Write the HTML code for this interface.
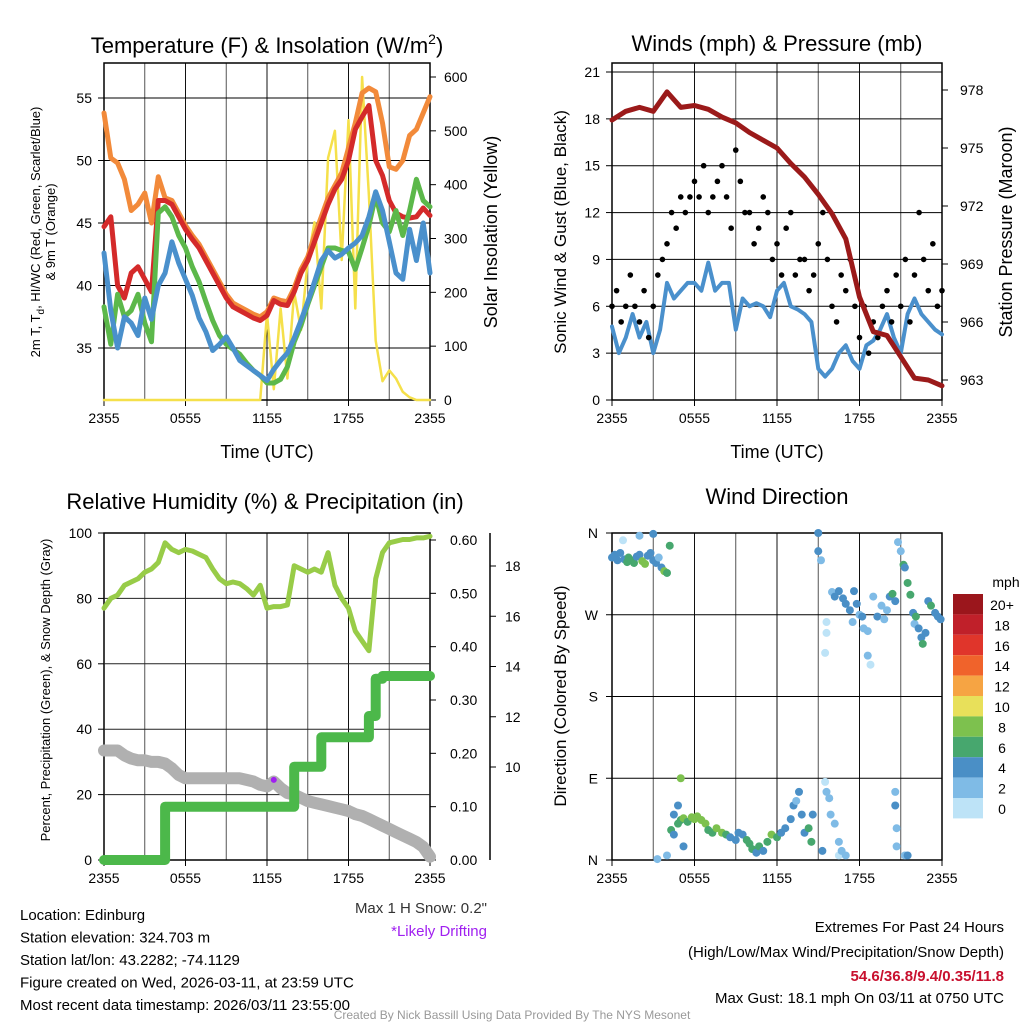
<!DOCTYPE html>
<html><head><meta charset="utf-8"><style>
body{margin:0;background:#fff;width:1024px;height:1024px;overflow:hidden}
svg{font-family:"Liberation Sans",sans-serif}
</style></head><body>
<svg id="chart" width="1024" height="1024" viewBox="0 0 1024 1024" xmlns="http://www.w3.org/2000/svg"></svg>
<script>
// ---- Data (time in hours from 2355 UTC; spread evenly over 24h) ----
const xTickLabels = ["2355","0555","1155","1755","2355"];
const tempTicks = [35,40,45,50,55];
const solarTicks = [0,100,200,300,400,500,600];
const windTicks = [0,3,6,9,12,15,18,21];
const presTicks = [963,966,969,972,975,978];
const pctTicks = [0,20,40,60,80,100];
const precipTicks = [0,0.1,0.2,0.3,0.4,0.5,0.6];
const snowTicks = [10,12,14,16,18];
const dirTickLabels = ["N","E","S","W","N"];
const cbarLabels = ["20+","18","16","14","12","10","8","6","4","2","0"];
const cbarColors = ["#9b161c","#c0202a","#e0352b","#f0632b","#f6a443","#e8e05a","#7dc14e","#47a76e","#4a8fc6","#7fbbe6","#bde3f7"];

const tempRed = [44.7,45.5,40,39,41,41.5,40.5,39.5,46.8,46.8,46.5,45.5,44.5,43.7,43,42,41,40,39,38.3,38,37.7,37.4,37.2,37.6,38.8,38.5,38.4,39.5,41,42,43.5,45,46.5,47.7,48.5,50,52.5,53.5,54.4,50,48.8,46.8,45.8,45.5,45.4,45.5,46.2,45.6];
const tempOrange = [53.8,50.2,49.8,48.5,46,46.5,47.4,45,48.7,47,46.8,45.8,44.8,44,43.3,42.3,41.3,40.3,39.3,38.6,38.3,38,37.7,37.5,37.9,39,38.8,38.7,39.8,41.3,42.3,44,45.5,47,48,49,51,53,55.4,55.8,55.5,53,49.5,49.3,50,52,52.5,53.8,55.1];
const tempGreen = [38.3,35.3,39.3,37.5,38,39.3,37,35.5,45.8,46.3,45.5,44,43,41.5,40.3,38.7,37.2,36,35.3,34.9,34.5,33.8,33.2,32.8,32.2,32.2,32.5,33.5,35.5,36.8,38.5,40,41.5,43,43,42.8,42.7,41.3,43,44.8,47.2,45,44.3,46,44,46,48.5,46.8,46.3];
const tempBlue = [42.6,38,35,37.5,37,36,39,37.3,40,41,43.5,41.8,40.5,39.2,37.4,36.3,34.8,35.3,35.9,35,34,33.6,33.2,32.8,32.4,33.3,34,34.6,35.8,37.2,38.7,40.3,42,42.8,42.2,42.5,43,43.4,44,45.5,47.5,46,43.5,41,40.5,44.5,42,45,41];
const solar = [0,0,0,0,0,0,0,0,0,0,0,0,0,0,0,0,0,0,0,0,0,0,0,0,160,20,170,40,200,130,260,330,170,450,500,260,520,170,600,380,110,35,55,40,15,5,0,0,0];

const windSpeed = [4.7,3,4,5.5,4,5,3,4.5,7.5,6.5,7,7.5,7.5,7,8.8,7,7.5,7.5,4.5,6.5,6,6.2,6,5.3,7,7.5,6,5.8,5.5,5,2,1.5,2,3,3.5,2.5,2,3.5,3.8,4.5,5.5,4,3,5.5,6.5,5.5,5,4.5,4.2];
const windGust = [6,7,5,6,8,6,5,7,4,6,8,9,10,12,11,13,12,13,14,13,15,12,13,14,15,13,11,16,14,12,12,10,11,13,12,9,10,8,11,12,8,9,9,7,8,10,12,9,6,5,8,7,9,6,4,6,3,5,4,6,7,5,8,6,9,5,8,12,9,7,10,6,7];
const pressure = [976.45,976.9,977.1,976.9,977.9,977.1,977.2,977.0,976.6,976.3,975.8,975.4,975.0,974.2,973.5,972.6,971.6,970.3,967.3,965.5,965.3,964.2,963.1,963.0,962.7];

const rh = [77,80,81,84,85,86,88,89,91,97,95,94,95,94.5,93.5,92.5,89,86,84.5,85,84.5,83,81,84,77,77.5,77.5,78,90,89,88,89,88,94,84,80,77,70,67,64,86,94,97,97.5,98,98,98.5,98.5,99];
const precip = [0,0,0,0,0,0,0,0,0,0.10,0.10,0.10,0.10,0.10,0.10,0.10,0.10,0.10,0.10,0.10,0.10,0.10,0.10,0.10,0.10,0.10,0.10,0.10,0.175,0.175,0.175,0.175,0.23,0.23,0.23,0.23,0.23,0.23,0.23,0.27,0.34,0.345,0.345,0.345,0.345,0.345,0.345,0.345,0.345];
const snowPct = [33.5,33.5,33.5,32,31,30.5,30.5,30,30,29.5,28,26,25,25,25,25,25,25,25,25,25,24.5,24,23,22.5,24,22,20.5,20,19,18,17.5,17,16.5,16,15.5,15,14,13.5,12.5,11.5,10.5,9.5,8.5,7.5,6.5,5.5,4,1];

const dirTime = [0.0,0.2,0.4,0.6,0.8,0.9,1.1,1.2,1.4,1.6,1.8,2.0,2.2,2.4,2.6,2.8,3.0,3.2,3.4,3.6,3.8,4.0,4.2,2.0,3.0,
 4.3,4.5,4.5,4.8,5.0,5.2,5.5,5.8,6.0,6.2,6.5,6.8,7.0,7.3,7.6,8.0,8.3,8.6,9.0,9.2,9.5,9.8,10.0,10.2,10.5,10.7,11.0,11.3,11.6,12.0,12.3,12.6,13.0,13.2,13.4,13.6,13.8,14.0,14.3,14.5,4.0,5.0,4.8,5.2,3.3,14.6,
 15.0,15.0,15.2,15.5,15.6,15.8,15.9,16.2,16.5,16.5,16.7,17.0,15.3,
 15.6,15.6,15.5,16.0,16.2,16.5,16.8,17.0,17.3,17.5,17.6,17.8,18.0,18.2,18.3,18.6,18.6,18.8,19.0,19.3,19.6,19.8,20.0,20.2,20.4,20.6,20.8,21.0,21.2,21.3,21.5,21.7,21.9,22.0,22.1,22.3,22.5,22.6,22.8,23.0,23.2,23.5,23.7,23.9,20.6,20.6,20.7,20.7,21.3,21.5];
const dirDeg = [333,336,330,338,352,331,328,333,330,327,334,336,329,326,335,338,330,327,333,322,318,316,346,357,359,
 33,28,50,40,44,46,42,47,45,48,44,40,33,30,35,30,28,25,22,30,28,22,18,12,8,15,10,20,28,25,30,35,45,60,65,75,50,30,35,20,5,90,60,15,1,50,
 360,340,330,86,75,68,50,40,20,5,10,5,10,
 262,250,228,295,290,296,288,282,275,262,296,282,270,268,255,252,225,215,290,268,280,265,275,290,293,285,350,340,325,322,305,292,272,260,268,255,245,238,250,285,280,272,268,265,75,60,35,15,5,5];
const dirSpd = [4,3,4,3,0,4,5,6,6,6,4,4,7,7,4,3,4,4,2,4,8,6,6,2,3,
 6,4,4,6,6,7,6,8,8,8,7,8,6,6,8,8,6,4,4,4,4,6,6,6,4,6,4,6,8,6,4,4,4,4,2,4,4,4,6,6,2,8,4,4,2,4,
 4,4,2,0,2,2,2,1,2,0,2,2,4,
 0,0,0,2,4,4,4,4,4,2,4,4,2,4,2,2,2,0,2,4,2,2,2,4,6,4,2,2,6,4,6,6,4,2,6,4,4,6,4,4,6,4,4,4,2,4,2,2,2,4];

const svg = document.getElementById('chart');
const NS = "http://www.w3.org/2000/svg";
function mk(tag, attrs, parent){ const e=document.createElementNS(NS,tag); for(const k in attrs) e.setAttribute(k,attrs[k]); (parent||svg).appendChild(e); return e; }
function txt(x,y,s,size,anchor,name,extra){ const t=mk('text',Object.assign({x:x,y:y,'font-size':size,'text-anchor':anchor||'middle',fill:'#000'},extra||{})); t.textContent=s;
 
 
 return t; }
function lin(d0,d1,r0,r1){ return v => r0+(v-d0)*(r1-r0)/(d1-d0); }
function seriesPath(arr, xs, ys){ const n=arr.length; return arr.map((v,i)=>(i?'L':'M')+xs(i*24/(n-1)).toFixed(1)+','+ys(v).toFixed(1)).join(''); }
function drawLine(arr,xs,ys,color,w,name){ const p=mk('path',{d:seriesPath(arr,xs,ys),fill:'none',stroke:color,'stroke-width':w,'stroke-linejoin':'round','stroke-linecap':'round'});
 
 
 return p; }

function panel(L,T,R,B,name){
 const xs=lin(0,24,L,R);
 for(let h=3;h<24;h+=3){ const x=xs(h); mk('line',{x1:x,y1:T,x2:x,y2:B,stroke:(h%6? '#555':'#111'),'stroke-width':1}); }
 xTickLabels.forEach((s,i)=>{ const x=xs(i*6); mk('line',{x1:x,y1:B,x2:x,y2:B+6,stroke:'#000'});
  txt(x,B+23,s,14,'middle','x-tick-label'); });
 const g=mk('rect',{x:L,y:T,width:R-L,height:B-T,fill:'none',stroke:'#000','stroke-width':1.5});
 
 
 return xs;
}
function leftTicks(ticks,ys,L,R,fmt,grid){ ticks.forEach(v=>{ const y=ys(v); if(grid) mk('line',{x1:L,y1:y,x2:R,y2:y,stroke:'#000','stroke-width':1}); mk('line',{x1:L-6,y1:y,x2:L,y2:y,stroke:'#000'}); txt(L-12,y+5,fmt(v),14,'end','left-tick-label'); }); }
function rightTicks(ticks,ys,R,fmt,off){ ticks.forEach(v=>{ const y=ys(v); mk('line',{x1:R,y1:y,x2:R+6,y2:y,stroke:'#000'}); txt(R+(off||14),y+5,fmt(v),14,'start','right-tick-label'); }); }
function rotText(x,y,s,size,name,rot){ const t=txt(x,y,s,size,'middle',name,{transform:`rotate(${rot||-90} ${x} ${y})`}); return t; }

// ---------- Panel 1: Temperature ----------
{
 const L=104,T=63,R=430,B=400;
 const ys=lin(55,35,98,348), ysol=lin(0,600,400,77);
 const xs=panel(L,T,R,B,'temperature-plot-area');
 leftTicks(tempTicks,ys,L,R,v=>v,true);
 rightTicks(solarTicks,ysol,R,v=>v);
 drawLine(solar,xs,ysol,'#f5e04a',2.5,'solar-insolation-line');
 drawLine(tempOrange,xs,ys,'#f28a3a',5,'temp-9m-orange-line');
 drawLine(tempRed,xs,ys,'#d42a2a',5,'temp-2m-red-line');
 drawLine(tempGreen,xs,ys,'#5cb84a',5,'dewpoint-green-line');
 drawLine(tempBlue,xs,ys,'#4a90cc',5,'windchill-blue-line');
 const t=txt(267,53,'',22,'middle','temperature-title'); t.innerHTML='Temperature (F) &amp; Insolation (W/m<tspan dy="-9" font-size="14">2</tspan><tspan dy="9">)</tspan>';
 txt(267,458,'Time (UTC)',18,'middle','temperature-x-axis-title');
 rotText(497,232,'Solar Insolation (Yellow)',18,'solar-axis-title',-90);
 const a=rotText(40,232,'',13,'temperature-axis-title',-90); a.innerHTML='2m T, T<tspan dy="4" font-size="10">d</tspan><tspan dy="-4">, HI/WC (Red, Green, Scarlet/Blue)</tspan>';
 rotText(55,232,'& 9m T (Orange)',13,'temperature-axis-title-2',-90);
}
// ---------- Panel 2: Winds ----------
{
 const L=612,T=63,R=942,B=400;
 const ys=lin(0,21,400,72), yp=lin(963,978,380,90);
 const xs=panel(L,T,R,B,'winds-plot-area');
 leftTicks(windTicks,ys,L,R,v=>v,true);
 rightTicks(presTicks,yp,R,v=>v,18);
 drawLine(windSpeed,xs,ys,'#4a90cc',4,'sonic-wind-line');
 windGust.forEach((v,i)=>{ const c=mk('circle',{cx:xs(i*24/(windGust.length-1)),cy:ys(v),r:2.8,fill:'#000'});
  
   });
 drawLine(pressure,xs,yp,'#9b1a1a',5,'pressure-line');
 txt(777,51,'Winds (mph) & Pressure (mb)',22,'middle','winds-title');
 txt(777,458,'Time (UTC)',18,'middle','winds-x-axis-title');
 rotText(566,232,'Sonic Wind & Gust (Blue, Black)',17,'wind-axis-title',-90);
 rotText(1012,232,'Station Pressure (Maroon)',18,'pressure-axis-title',-90);
}
// ---------- Panel 3: RH & Precip ----------
{
 const L=104,T=533,R=430,B=860;
 const ys=lin(0,100,860,533), ypr=lin(0,0.6,860,540), ysn=lin(10,18,767,566);
 const xs=panel(L,T,R,B,'humidity-plot-area');
 [20,40,60,80].forEach(v=>mk('line',{x1:L,y1:ys(v),x2:R,y2:ys(v),stroke:'#222'}));
 mk('line',{x1:490,y1:533,x2:490,y2:B,stroke:'#000','stroke-width':1.5});
 leftTicks(pctTicks,ys,L,R,v=>v,false);
 precipTicks.forEach(v=>{ const y=ypr(v); mk('line',{x1:R,y1:y,x2:R+6,y2:y,stroke:'#000'}); txt(450,y+5,v.toFixed(2),14,'start','precip-tick-label'); });
 snowTicks.forEach(v=>{ const y=ysn(v); mk('line',{x1:490,y1:y,x2:496,y2:y,stroke:'#000'}); txt(505,y+5,v,14,'start','snow-tick-label'); });
 drawLine(snowPct,xs,ys,'#b0b0b0',12,'snow-depth-line');
 let d='', n=precip.length; precip.forEach((v,i)=>{ const x=xs(i*24/(n-1)), y=ypr(v); d+= i? `H${x.toFixed(1)}V${y.toFixed(1)}` : `M${x},${y}`; });
 const p=mk('path',{d:d,fill:'none',stroke:'#4cb84a','stroke-width':10,'stroke-linecap':'round','stroke-linejoin':'round'});
 
 
 drawLine(rh,xs,ys,'#98cc48',5,'relative-humidity-line');
 const dm=mk('circle',{cx:xs(12.5),cy:ys(24.5),r:3,fill:'#a020f0'});
 
 
 txt(265,509,'Relative Humidity (%) & Precipitation (in)',22,'middle','humidity-title');
 rotText(50,690,'Percent, Precipitation (Green), & Snow Depth (Gray)',13,'humidity-axis-title',-90);
 txt(487,913,'Max 1 H Snow: 0.2"',15,'end','max-snow-note',{fill:'#333'});
 txt(487,936,'*Likely Drifting',15,'end','drifting-note',{fill:'#a020f0'});
}
// ---------- Panel 4: Wind direction ----------
{
 const L=612,T=533,R=942,B=860;
 const ys=lin(0,360,860,533);
 const xs=panel(L,T,R,B,'wind-direction-plot-area');
 dirTickLabels.forEach((s,i)=>{ const y=ys(i*90); mk('line',{x1:L,y1:y,x2:R,y2:y,stroke:'#000'}); mk('line',{x1:L-6,y1:y,x2:L,y2:y,stroke:'#000'}); txt(L-14,y+5,s,14,'end','direction-tick-label'); });
 function col(s){ const idx=Math.min(10,Math.max(0,Math.round(s/2))); return cbarColors[10-idx]; }
 dirTime.forEach((t,i)=>{ const c=mk('circle',{cx:xs(t),cy:ys(dirDeg[i]),r:4,fill:col(dirSpd[i])});
  
   });
 txt(777,504,'Wind Direction',22,'middle','wind-direction-title');
 rotText(566,696,'Direction (Colored By Speed)',17,'direction-axis-title',-90);
 cbarColors.forEach((c,i)=>{ const r=mk('rect',{x:953,y:594+i*20.4,width:30,height:20.4,fill:c});
  
  
  txt(1002,610+i*20.4,cbarLabels[i],14,'middle','colorbar-label'); });
 txt(1006,587,'mph',14,'middle','colorbar-title');
}
// ---------- Info text ----------
const info=["Location: Edinburg","Station elevation: 324.703 m","Station lat/lon: 43.2282; -74.1129","Figure created on Wed, 2026-03-11, at 23:59 UTC","Most recent data timestamp: 2026/03/11 23:55:00"];
info.forEach((s,i)=>txt(20,920+i*22.5,s,15,'start','station-info-line'));
txt(1004,932,'Extremes For Past 24 Hours',15,'end','extremes-heading');
txt(1004,957,'(High/Low/Max Wind/Precipitation/Snow Depth)',15,'end','extremes-subheading');
txt(1004,981,'54.6/36.8/9.4/0.35/11.8',15,'end','extremes-values',{fill:'#c8102e','font-weight':'bold'});
txt(1004,1003,'Max Gust: 18.1 mph On 03/11 at 0750 UTC',15,'end','max-gust-text');
txt(512,1019,'Created By Nick Bassill Using Data Provided By The NYS Mesonet',12,'middle','credit-footer',{fill:'#999'});
</script>
</body></html>
